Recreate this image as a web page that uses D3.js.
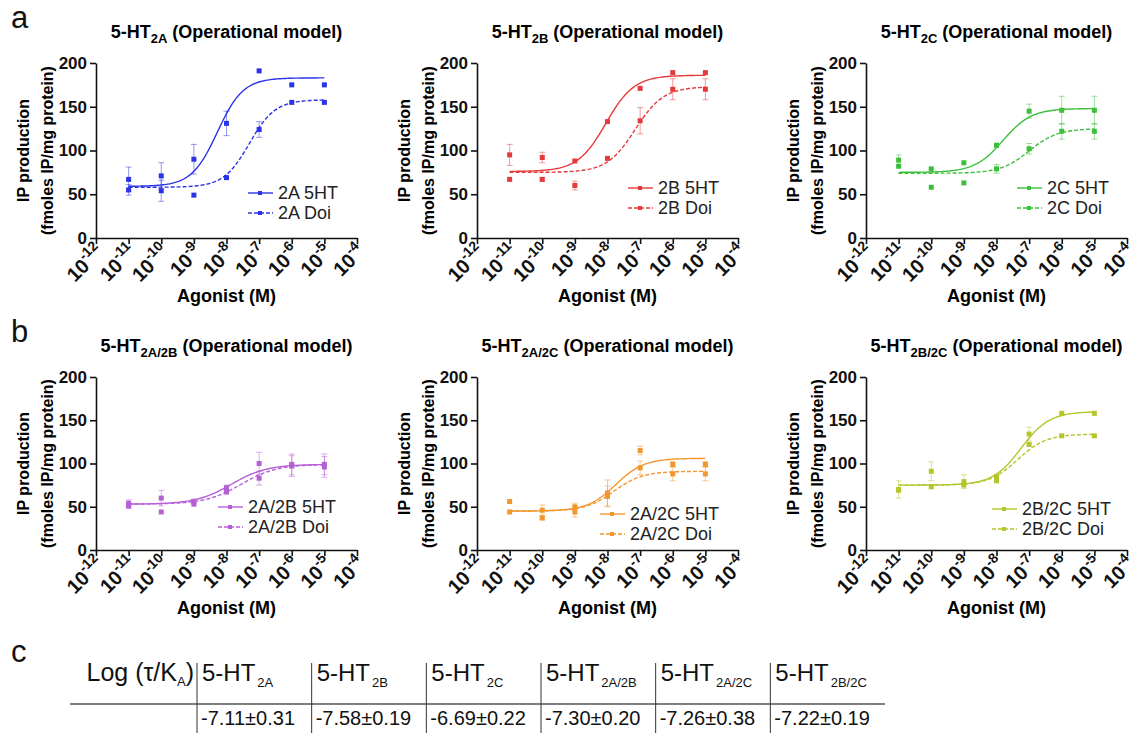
<!DOCTYPE html>
<html>
<head>
<meta charset="utf-8">
<script src="https://cdn.jsdelivr.net/npm/d3@7"></script>
<style>
body { margin: 0; background: #fff; }
text { font-family: "Liberation Sans", Arial, sans-serif; }
</style>
</head>
<body>
<svg id="fig" width="1131" height="736"></svg>
<script>
// concentrations tested (log10 M) and axis ticks
var concLog = [-11, -10, -9, -8, -7, -6, -5];
var xTickExp = [-12, -11, -10, -9, -8, -7, -6, -5, -4];
var yTicks = [0, 50, 100, 150, 200];

var receptors = ["2A", "2B", "2C", "2A/2B", "2A/2C", "2B/2C"];
var colors = ["#2b33e6", "#e63a3a", "#3cc03c", "#b660d8", "#f2962e", "#b4c62a"];

// IP production, mean and SEM (fmoles IP/mg protein)
var ip2A_5HT = [67, 71, 90, 131, 191, 175, 175];
var sem2A_5HT = [14, 15, 17, 14, 0, 0, 0];
var ip2A_Doi = [55, 54, 49, 69, 124, 155, 155];
var sem2A_Doi = [6, 12, 0, 0, 9, 0, 0];

var ip2B_5HT = [95, 92, 88, 133, 171, 189, 189];
var sem2B_5HT = [12, 6, 0, 0, 0, 0, 0];
var ip2B_Doi = [67, 67, 60, 91, 134, 170, 170];
var sem2B_Doi = [0, 2, 5, 0, 15, 12, 12];

var ip2C_5HT = [89, 79, 86, 106, 145, 146, 146];
var sem2C_5HT = [6, 0, 0, 0, 8, 16, 16];
var ip2C_Doi = [82, 58, 63, 79, 102, 122, 122];
var sem2C_Doi = [0, 0, 0, 5, 6, 9, 9];

var ip2A2B_5HT = [54, 60, 56, 72, 100, 99, 99];
var sem2A2B_5HT = [4, 9, 3, 3, 13, 12, 12];
var ip2A2B_Doi = [51, 44, 53, 67, 83, 97, 96];
var sem2A2B_Doi = [3, 0, 0, 0, 8, 12, 12];

var ip2A2C_5HT = [56, 46, 50, 66, 115, 99, 99];
var sem2A2C_5HT = [0, 6, 4, 15, 5, 3, 3];
var ip2A2C_Doi = [44, 37, 44, 62, 95, 88, 88];
var sem2A2C_Doi = [0, 2, 6, 12, 8, 8, 8];

var ip2B2C_5HT = [70, 91, 79, 85, 134, 158, 158];
var sem2B2C_5HT = [10, 11, 8, 0, 8, 0, 0];
var ip2B2C_Doi = [69, 73, 75, 80, 122, 132, 132];
var sem2B2C_Doi = [0, 0, 0, 0, 0, 0, 0];

// fitted curves: [bottom, top, logEC50, hill]
var fit2A_5HT = [59, 183, -8.28, 1.1], fit2A_Doi = [58, 158, -7.3, 1.1];
var fit2B_5HT = [76, 186, -8.05, 1], fit2B_Doi = [75, 173, -7.15, 1];
var fit2C_5HT = [75, 148, -7.8, 1], fit2C_Doi = [74, 125, -7.0, 1];
var fit2A2B_5HT = [53, 99, -7.85, 0.8], fit2A2B_Doi = [53, 99, -7.55, 0.8];
var fit2A2C_5HT = [45, 106, -7.75, 1], fit2A2C_Doi = [45, 91, -7.8, 1];
var fit2B2C_5HT = [75, 160, -7.25, 1], fit2B2C_Doi = [75, 134, -7.35, 1];

// table c: log(tau/KA)
var logTauKA = ["-7.11", "-7.58", "-6.69", "-7.30", "-7.26", "-7.22"];
var logTauKAsem = ["0.31", "0.19", "0.22", "0.20", "0.38", "0.19"];

var svg = d3.select("#fig");

// panel frame: y axis x, y of 0 and of 200, legend offsets
var layout = [
	{ ox: 96, y0: 238, y200: 63, lx: 152, ly: -45 },
	{ ox: 477, y0: 238, y200: 63, lx: 151, ly: -50 },
	{ ox: 866, y0: 238, y200: 63, lx: 151, ly: -50 },
	{ ox: 96, y0: 550, y200: 377, lx: 122, ly: -43 },
	{ ox: 477, y0: 550, y200: 377, lx: 123, ly: -36 },
	{ ox: 866, y0: 550, y200: 377, lx: 126, ly: -41 }
];
var plotW = 261;

var series = [
	[ip2A_5HT, sem2A_5HT, fit2A_5HT, ip2A_Doi, sem2A_Doi, fit2A_Doi],
	[ip2B_5HT, sem2B_5HT, fit2B_5HT, ip2B_Doi, sem2B_Doi, fit2B_Doi],
	[ip2C_5HT, sem2C_5HT, fit2C_5HT, ip2C_Doi, sem2C_Doi, fit2C_Doi],
	[ip2A2B_5HT, sem2A2B_5HT, fit2A2B_5HT, ip2A2B_Doi, sem2A2B_Doi, fit2A2B_Doi],
	[ip2A2C_5HT, sem2A2C_5HT, fit2A2C_5HT, ip2A2C_Doi, sem2A2C_Doi, fit2A2C_Doi],
	[ip2B2C_5HT, sem2B2C_5HT, fit2B2C_5HT, ip2B2C_Doi, sem2B2C_Doi, fit2B2C_Doi]
];

// sigmoid dose response
var sigmoid = function(p, l) {
	return p[0] + (p[1] - p[0]) / (1 + Math.pow(10, (p[2] - l) * p[3]));
};

var drawPanel = function(i) {
	var L = layout[i], col = colors[i];
	var g = svg.append("g");
	var x = d3.scaleLog().domain([1e-12, 1e-4]).range([L.ox, L.ox + plotW]);
	var y = d3.scaleLinear().domain([0, 200]).range([L.y0, L.y200]);

	// y axis
	var ya = g.append("g")
		.attr("transform", "translate(" + L.ox + ",0)")
		.call(d3.axisLeft(y).tickValues(yTicks).tickSize(6).tickSizeOuter(0).tickPadding(3));
	ya.selectAll("text").attr("font-size", 17).attr("font-weight", "bold")
		.attr("font-family", "Liberation Sans, Arial, sans-serif").attr("fill", "#111");

	// x axis
	g.append("g")
		.attr("transform", "translate(0," + L.y0 + ")")
		.call(d3.axisBottom(x).tickValues(xTickExp.map(function(e) { return Math.pow(10, e); }))
			.tickSize(6).tickSizeOuter(0).tickFormat(""));
	g.selectAll(".domain, .tick line").attr("stroke", "#111").attr("stroke-width", 1.6);

	xTickExp.forEach(function(e) {
		var t = g.append("text")
			.attr("transform", "translate(" + (x(Math.pow(10, e)) + 9) + "," + (L.y0 + 15) + ") rotate(-45)")
			.attr("text-anchor", "end")
			.attr("font-weight", "bold").attr("font-size", 20).attr("fill", "#111");
		t.append("tspan").text("10");
		t.append("tspan").attr("font-size", 14).attr("dy", -9).text(e);
	});

	g.append("text")
		.attr("x", L.ox + plotW / 2).attr("y", L.y0 + 64)
		.attr("text-anchor", "middle").attr("font-weight", "bold").attr("font-size", 18)
		.text("Agonist (M)");

	// y label
	var cy = (L.y0 + L.y200) / 2;
	g.append("text")
		.attr("transform", "translate(" + (L.ox - 67) + "," + cy + ") rotate(-90)")
		.attr("text-anchor", "middle").attr("font-weight", "bold").attr("font-size", 16)
		.text("IP production");
	g.append("text")
		.attr("transform", "translate(" + (L.ox - 43) + "," + cy + ") rotate(-90)")
		.attr("text-anchor", "middle").attr("font-weight", "bold").attr("font-size", 16)
		.text("(fmoles IP/mg protein)");

	// title
	var title = g.append("text")
		.attr("x", L.ox + plotW / 2).attr("y", L.y200 - 25)
		.attr("text-anchor", "middle").attr("font-weight", "bold").attr("font-size", 18);
	title.append("tspan").text("5-HT");
	title.append("tspan").attr("font-size", 13).attr("dy", 5).text(receptors[i]);
	title.append("tspan").attr("dy", -5).text(" (Operational model)");

	var s = series[i];
	var curveRange = d3.range(concLog[0], concLog[concLog.length - 1] + 0.001, 0.05);
	[0, 1].forEach(function(k) {
		var means = s[k * 3], sems = s[k * 3 + 1], fit = s[k * 3 + 2];
		var line = d3.line()
			.x(function(l) { return x(Math.pow(10, l)); })
			.y(function(l) { return y(sigmoid(fit, l)); });
		g.append("path").datum(curveRange)
			.attr("d", line).attr("fill", "none").attr("stroke", col)
			.attr("stroke-width", 1.4).attr("stroke-dasharray", k ? "4,2" : null);

		// error bars
		concLog.forEach(function(l, j) {
			if (!sems[j]) return;
			var cx = x(Math.pow(10, l));
			var eb = g.append("g").attr("stroke", col).attr("stroke-opacity", 0.5).attr("stroke-width", 1);
			eb.append("line").attr("x1", cx).attr("x2", cx)
				.attr("y1", y(means[j] - sems[j])).attr("y2", y(means[j] + sems[j]));
			[-1, 1].forEach(function(sg) {
				eb.append("line").attr("x1", cx - 3).attr("x2", cx + 3)
					.attr("y1", y(means[j] + sg * sems[j])).attr("y2", y(means[j] + sg * sems[j]));
			});
		});

		// points
		g.selectAll(null).data(means).enter().append("rect")
			.attr("x", function(d, j) { return x(Math.pow(10, concLog[j])) - 2.5; })
			.attr("y", function(d) { return y(d) - 2.5; })
			.attr("width", 5).attr("height", 5).attr("fill", col);

		// legend
		var ly = L.y0 + L.ly + k * 20;
		var lx = L.ox + L.lx;
		g.append("line").attr("x1", lx).attr("x2", lx + 25).attr("y1", ly).attr("y2", ly)
			.attr("stroke", col).attr("stroke-width", 1.4).attr("stroke-dasharray", k ? "4,2" : null);
		g.append("rect").attr("x", lx + 10).attr("y", ly - 2).attr("width", 4).attr("height", 4).attr("fill", col);
		g.append("text").attr("x", lx + 30).attr("y", ly + 6)
			.attr("font-size", 18).attr("fill", "#222")
			.text(receptors[i] + (k ? " Doi" : " 5HT"));
	});
};

for (var i = 0; i < receptors.length; i++) drawPanel(i);

// panel letters
[["a", 28], ["b", 342], ["c", 662]].forEach(function(p) {
	svg.append("text").attr("x", 11).attr("y", p[1]).attr("font-size", 31).attr("fill", "#111").text(p[0]);
});

// table c
var tcol = d3.scaleBand().domain(receptors).range([197, 885]);
var tbl = svg.append("g").attr("fill", "#111");
var lg = tbl.append("text").attr("x", 194).attr("y", 681).attr("text-anchor", "end").attr("font-size", 25);
lg.append("tspan").text("Log (\u03C4/K");
lg.append("tspan").attr("font-size", 13).attr("dy", 5).text("A");
lg.append("tspan").attr("dy", -5).text(")");

tbl.append("line").attr("x1", 70).attr("x2", 885).attr("y1", 704).attr("y2", 704)
	.attr("stroke", "#555").attr("stroke-width", 1.6);

receptors.forEach(function(r, j) {
	var cx = tcol(r);
	tbl.append("line").attr("x1", cx).attr("x2", cx).attr("y1", 663).attr("y2", 733)
		.attr("stroke", "#333").attr("stroke-width", 1);
	var h = tbl.append("text").attr("x", cx + 5).attr("y", 681).attr("font-size", 24);
	h.append("tspan").text("5-HT");
	h.append("tspan").attr("font-size", 13).attr("dy", 6).attr("dx", 2).text(r);
	tbl.append("text").attr("x", cx + 4).attr("y", 725).attr("font-size", 20)
		.text(logTauKA[j] + "\u00B1" + logTauKAsem[j]);
});
</script>
</body>
</html>
